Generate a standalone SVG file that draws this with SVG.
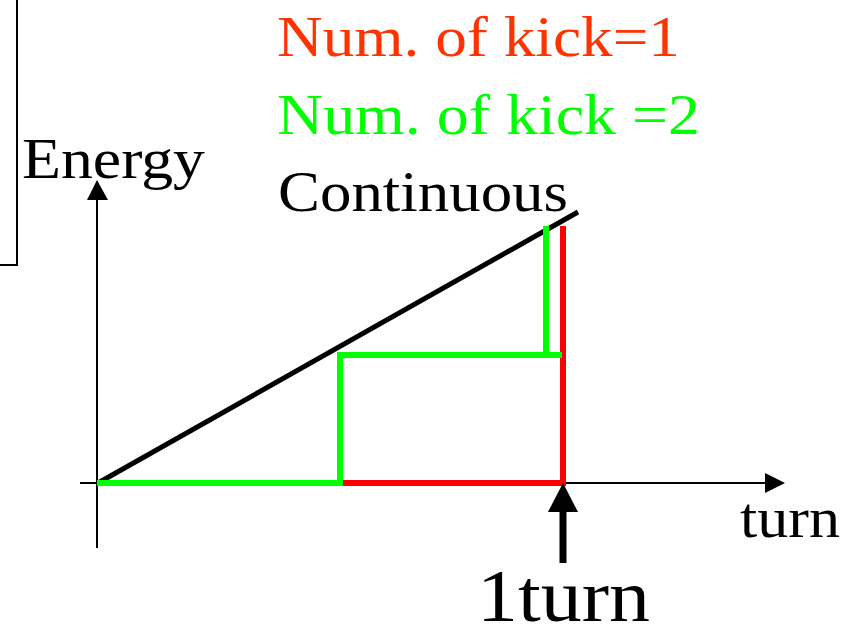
<svg xmlns="http://www.w3.org/2000/svg" width="854" height="628" viewBox="0 0 854 628">
<style>
.t{font-size:58px;font-family:'Liberation Serif','DejaVu Serif',serif;}
.ax{stroke:#000;stroke-width:2;fill:none;}
.g{stroke:#00FF00;stroke-width:6;fill:none;}
.r{stroke:#FF0000;stroke-width:6;fill:none;}
</style>
<rect width="854" height="628" fill="#fff"/>
<g id="frame">
<polyline points="17,0 17,265 0,265" class="ax"/>
</g>
<g id="labels">
<text x="277" y="56" class="t" fill="#FF3300" textLength="403" lengthAdjust="spacingAndGlyphs">Num. of kick=1</text>
<text x="277" y="134" class="t" fill="#00FF00" textLength="423" lengthAdjust="spacingAndGlyphs">Num. of kick =2</text>
<text x="278" y="211" class="t" fill="#000" textLength="290" lengthAdjust="spacingAndGlyphs">Continuous</text>
<text x="22" y="178" class="t" fill="#000" textLength="183" lengthAdjust="spacingAndGlyphs">Energy</text>
<text x="740" y="537" class="t" fill="#000" textLength="100" lengthAdjust="spacingAndGlyphs">turn</text>
<text x="477" y="621" class="t" style="font-size:74px" fill="#000" textLength="173" lengthAdjust="spacingAndGlyphs">1turn</text>
</g>
<g id="connectors">
<line x1="97" y1="548" x2="97" y2="198" class="ax"/>
<polygon points="97,180 87,200 108,200" fill="#000"/>
<line x1="80" y1="483" x2="767" y2="483" class="ax"/>
<polygon points="785,483 765,473 765,493" fill="#000"/>
<line x1="98" y1="483" x2="578" y2="212" stroke="#000" stroke-width="5"/>
<polyline points="340,483 563,483 563,226" class="r"/>
<polyline points="97,483 340,483 340,355 562,355" class="g"/>
<line x1="546" y1="355" x2="546" y2="226" class="g"/>
<line x1="563" y1="563" x2="563" y2="505" stroke="#000" stroke-width="7"/>
<polygon points="563,483 548,512 578,512" fill="#000"/>
</g>
</svg>
